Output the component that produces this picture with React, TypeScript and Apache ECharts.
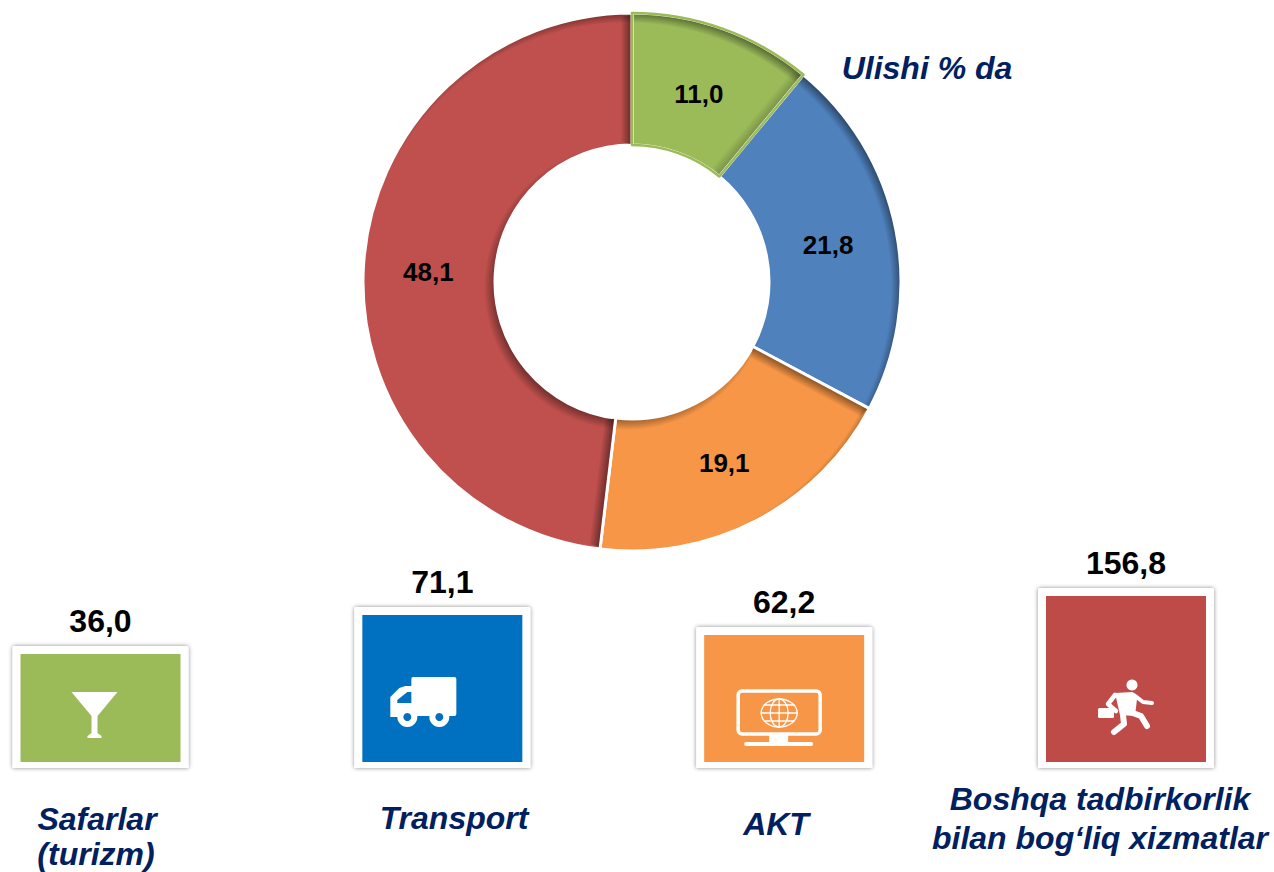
import React, { useEffect, useRef } from "react";
import * as echarts from "echarts";

// Donut data (share, %)
const shareNames = ["Safarlar (turizm)", "Transport", "AKT", "Boshqa tadbirkorlik bilan bog‘liq xizmatlar"];
const shareValues = [11.0, 21.8, 19.1, 48.1];
const shareColors = ["#9BBB59", "#4F81BD", "#F79646", "#C0504D"];

// Tiles
const tileValues = [36.0, 71.1, 62.2, 156.8];
const tileHeights = [122, 161, 141, 180]; // drawn tile heights
const tileColors = ["#9BBB59", "#0070C0", "#F79646", "#BE4B48"];
const tileIcons = ["glass", "truck", "monitor", "runner"];

const fmt = (v: number) => v.toFixed(1).replace(".", ",");
const NAVY = "#002060";
const FONT = '"Liberation Sans", Arial, sans-serif';
const CX = 632;
const CY = 282;
const R = 268;
const R0 = 137;
const SHIFT = 5; // bevel light offset
const labelOffsets = [[-3, 6], [-6, 3], [-3, -2], [2, 2]];

function darken(hex: string, k: number) {
  const n = parseInt(hex.slice(1), 16);
  const ch = (v: number) => Math.round(v * k);
  return `rgb(${ch((n >> 16) & 255)},${ch((n >> 8) & 255)},${ch(n & 255)})`;
}

// Inner-shadow look: a radial gradient whose centre is moved down-left of the ring's centre
function sliceFill(c: string) {
  const dark = darken(c, 0.55);
  const RG = R + 14;
  return new echarts.graphic.RadialGradient(CX - SHIFT, CY + SHIFT, RG, [
    { offset: 0, color: dark },
    { offset: (R0 - 7) / RG, color: dark },
    { offset: (R0 + 6) / RG, color: c },
    { offset: (R - 4) / RG, color: c },
    { offset: (R + 7) / RG, color: dark },
    { offset: 1, color: dark },
  ], true);
}

// Which slice boundaries carry a shadow strip, on which side, and how strong
const edgeBoundaries = [0, 1, 2, 3];
const edgeSides = [-1, -1, 1, 1];
const edgeAlpha = [0.42, 0.2, 0.42, 0.42];

function renderEdge(params: any) {
  const i = params.dataIndex;
  const total = shareValues.reduce((a, b) => a + b, 0);
  const before = shareValues.slice(0, edgeBoundaries[i]).reduce((a, b) => a + b, 0);
  const a = (before / total) * Math.PI * 2; // clockwise from 12 o'clock
  const dir = [Math.sin(a), -Math.cos(a)];
  const side = edgeSides[i];
  const n = [Math.cos(a) * side, Math.sin(a) * side];
  const gap = 1.5;
  const w = 10;
  const pt = (r: number, o: number) => [CX + dir[0] * r + n[0] * o, CY + dir[1] * r + n[1] * o];
  const from = pt(R, gap);
  const to = pt(R, gap + w);
  return {
    type: "polygon",
    shape: { points: [pt(R0 + 1, gap), pt(R - 1, gap), pt(R - 3, gap + w), pt(R0 + 3, gap + w)] },
    style: {
      fill: new echarts.graphic.LinearGradient(from[0], from[1], to[0], to[1], [
        { offset: 0, color: `rgba(0,0,0,${edgeAlpha[i]})` },
        { offset: 1, color: "rgba(0,0,0,0)" },
      ], true),
    },
  };
}

// icons are drawn in picture pixels around their tile's anchor
function iconChildren(kind: string, bg: string): any[] {
  const w = { fill: "#fff" };
  const sk = (lineWidth: number) => ({ fill: "none", stroke: "#fff", lineWidth, lineCap: "round", lineJoin: "round" });
  if (kind === "glass") {
    return [
      { type: "polygon", shape: { points: [[72, 692], [118, 692], [98, 716], [98, 733], [102, 736], [102, 738], [88, 738], [88, 736], [92, 733], [92, 716]] }, style: w },
    ];
  }
  if (kind === "truck") {
    return [
      { type: "rect", shape: { x: 411, y: 677, width: 45, height: 39, r: 2 }, style: w },
      { type: "polygon", shape: { points: [[390, 697], [399, 688], [405, 686], [412, 686], [412, 717], [390, 717]] }, style: w },
      { type: "polygon", shape: { points: [[397, 703], [397, 700], [407, 692], [411, 692], [411, 703]] }, style: { fill: bg } },
      { type: "circle", shape: { cx: 407, cy: 717, r: 10 }, style: w },
      { type: "circle", shape: { cx: 407, cy: 717, r: 4 }, style: { fill: bg } },
      { type: "circle", shape: { cx: 439, cy: 717, r: 10 }, style: w },
      { type: "circle", shape: { cx: 439, cy: 717, r: 4 }, style: { fill: bg } },
    ];
  }
  if (kind === "monitor") {
    return [
      { type: "rect", shape: { x: 738, y: 691, width: 82, height: 43, r: 4 }, style: sk(3.5) },
      { type: "rect", shape: { x: 769, y: 734, width: 19, height: 9 }, style: w },
      { type: "rect", shape: { x: 744, y: 742, width: 69, height: 4, r: 2 }, style: w },
      { type: "ellipse", shape: { cx: 779, cy: 713, rx: 18, ry: 14 }, style: sk(1.3) },
      { type: "ellipse", shape: { cx: 779, cy: 713, rx: 9, ry: 14 }, style: sk(1.3) },
      { type: "line", shape: { x1: 761, y1: 713, x2: 797, y2: 713 }, style: sk(1.3) },
      { type: "line", shape: { x1: 779, y1: 699, x2: 779, y2: 727 }, style: sk(1.3) },
      { type: "line", shape: { x1: 764, y1: 705, x2: 794, y2: 705 }, style: sk(1.3) },
      { type: "line", shape: { x1: 764, y1: 721, x2: 794, y2: 721 }, style: sk(1.3) },
    ];
  }
  return [
    { type: "circle", shape: { cx: 1132, cy: 685, r: 5.5 }, style: w },
    { type: "polygon", shape: { points: [[1115, 693], [1133, 692], [1137, 699], [1135, 716], [1120, 715]] }, style: w },
    { type: "polyline", shape: { points: [[1115, 695], [1108, 704], [1116, 711]] }, style: sk(4.5) },
    { type: "polyline", shape: { points: [[1134, 695], [1143, 702], [1152, 703]] }, style: sk(4) },
    { type: "polyline", shape: { points: [[1130, 712], [1141, 716], [1147, 726]] }, style: sk(6) },
    { type: "polyline", shape: { points: [[1123, 715], [1124, 724], [1114, 732]] }, style: sk(6) },
    { type: "rect", shape: { x: 1098, y: 708, width: 16, height: 10, r: 1.5 }, style: w },
  ];
}

const iconAnchors: Record<string, number[]> = {
  glass: [101, 768],
  truck: [442, 768],
  monitor: [784, 768],
  runner: [1126, 768],
};

function renderTile(params: any, api: any) {
  const i = params.dataIndex;
  const top = api.coord([i, api.value(1)]);
  const base = api.coord([i, 0]);
  const cx = top[0];
  const color = tileColors[i];
  const kind = tileIcons[i];
  const anchor = iconAnchors[kind];
  return {
    type: "group",
    children: [
      {
        type: "rect",
        shape: { x: cx - 88, y: top[1], width: 176, height: base[1] - top[1], r: [2, 2, 0, 0] },
        style: { fill: "#fff", shadowBlur: 4, shadowColor: "rgba(0,0,0,0.45)", shadowOffsetX: 0, shadowOffsetY: 0 },
      },
      {
        type: "rect",
        shape: { x: cx - 80, y: top[1] + 8, width: 160, height: base[1] - top[1] - 14 },
        style: { fill: color },
      },
      {
        type: "group",
        x: cx - anchor[0],
        y: base[1] - anchor[1],
        children: iconChildren(kind, color),
      },
      {
        type: "text",
        style: {
          text: fmt(tileValues[i]),
          x: cx,
          y: top[1] - 25,
          align: "center",
          verticalAlign: "middle",
          fill: "#000",
          font: `bold 32px ${FONT}`,
        },
      },
    ],
  };
}

const captionStyle = {
  fill: NAVY,
  font: `italic bold 32px ${FONT}`,
  align: "center",
  verticalAlign: "middle",
};

function caption(text: string, x: number, y: number) {
  return { type: "text", x, y, style: { ...captionStyle, text } };
}

export default function App() {
  const ref = useRef<HTMLDivElement>(null);
  useEffect(() => {
    document.body.style.margin = "0";
    const chart = echarts.init(ref.current!, null, { renderer: "svg" });
    chart.setOption({
      animation: false,
      backgroundColor: "#fff",
      grid: { left: 100.5, top: 0, width: 1025.5, height: 768 },
      xAxis: { type: "category", show: false, boundaryGap: false, data: shareNames },
      yAxis: { type: "value", show: false, min: 0, max: 768 },
      series: [
        {
          type: "pie",
          center: [CX, CY],
          radius: [R0, R + 1],
          startAngle: 90,
          clockwise: true,
          avoidLabelOverlap: false,
          data: shareValues.map((value, i) => ({
            name: shareNames[i],
            value,
            itemStyle: { color: sliceFill(shareColors[i]), borderColor: "#fff", borderWidth: 3 },
            label: { offset: labelOffsets[i] },
          })),
          label: {
            show: true,
            position: "inside",
            formatter: (p: any) => fmt(p.value),
            color: "#000",
            fontFamily: FONT,
            fontWeight: "bold",
            fontSize: 26,
          },
          labelLine: { show: false },
          emphasis: { disabled: true },
        },
        {
          type: "custom",
          coordinateSystem: "none",
          silent: true,
          z: 3,
          data: edgeBoundaries.map((b) => [b]),
          renderItem: renderEdge,
        },
        {
          type: "pie",
          center: [CX, CY],
          radius: [R0, R + 1],
          startAngle: 90,
          silent: true,
          z: 4,
          label: { show: false },
          labelLine: { show: false },
          data: shareValues.map((value, i) => ({
            name: shareNames[i],
            value,
            itemStyle: i === 0
              ? { color: "rgba(0,0,0,0)", borderColor: shareColors[0], borderWidth: 2.5 }
              : { color: "rgba(0,0,0,0)", borderWidth: 0 },
          })),
          emphasis: { disabled: true },
        },
        {
          type: "custom",
          coordinateSystem: "cartesian2d",
          clip: false,
          silent: true,
          data: tileHeights.map((h, i) => [i, h]),
          encode: { x: 0, y: 1 },
          renderItem: renderTile,
        },
      ],
      graphic: [
        caption("Ulishi % da", 927, 68),
        caption("Safarlar", 97, 819),
        caption("(turizm)", 96, 854),
        caption("Transport", 454, 818),
        caption("AKT", 776, 824),
        caption("Boshqa tadbirkorlik", 1100, 799),
        caption("bilan bog‘liq xizmatlar", 1100, 838),
      ],
    });
    return () => chart.dispose();
  }, []);
  return <div ref={ref} style={{ width: 1274, height: 872 }} />;
}
